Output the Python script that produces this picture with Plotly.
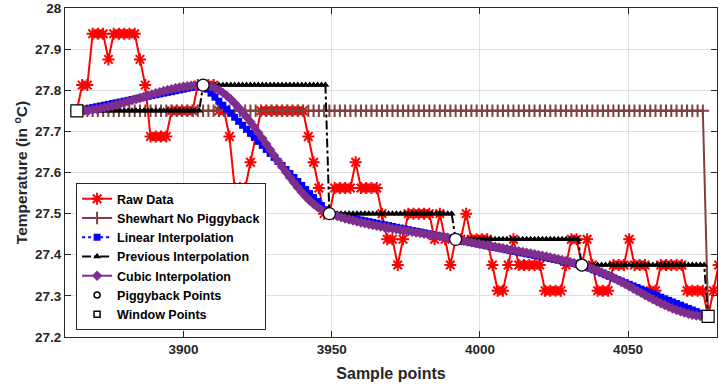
import numpy as np
import plotly.graph_objects as go

# ---------------- data ----------------
SAMPLE_START = 3864.0
SAMPLE_STEP = 1.775

raw_values = [
    27.75,
    27.8125, 27.8125,
    27.9375, 27.9375, 27.9375,
    27.875,
    27.9375, 27.9375, 27.9375, 27.9375, 27.9375,
    27.875,
    27.8125,
    27.6875, 27.6875, 27.6875, 27.6875,
    27.75, 27.75, 27.75, 27.75, 27.75,
    27.8125, 27.8125, 27.8125, 27.8125,
    27.75, 27.75,
    27.6875,
    27.5625, 27.5625, 27.5625,
    27.625,
    27.6875,
    27.75, 27.75, 27.75, 27.75, 27.75, 27.75, 27.75, 27.75, 27.75,
    27.6875,
    27.625,
    27.5625,
    27.5, 27.5,
    27.5625, 27.5625, 27.5625, 27.5625,
    27.625,
    27.5625, 27.5625, 27.5625, 27.5625,
    27.5,
    27.4375, 27.4375,
    27.375,
    27.4375,
    27.5, 27.5, 27.5, 27.5, 27.5,
    27.4375,
    27.5,
    27.4375,
    27.375,
    27.4375, 27.4375,
    27.5,
    27.4375, 27.4375, 27.4375, 27.4375,
    27.375,
    27.3125, 27.3125,
    27.375,
    27.4375,
    27.375, 27.375, 27.375, 27.375, 27.375,
    27.3125, 27.3125, 27.3125, 27.3125,
    27.375,
    27.4375, 27.4375,
    27.375,
    27.4375,
    27.375,
    27.3125, 27.3125, 27.3125,
    27.375, 27.375, 27.375,
    27.4375,
    27.375, 27.375, 27.375,
    27.3125, 27.3125,
    27.375, 27.375, 27.375, 27.375, 27.375,
    27.3125, 27.3125, 27.3125, 27.3125,
    27.25,
    27.3125,
    27.375,
]

shewhart_values = [27.75] * 120 + [27.25]

piggy_x = [3906.6, 3949.2, 3991.8, 4034.4]
piggy_y = [27.8125, 27.5, 27.4375, 27.375]

window_x = [3864.0, 4077.0]
window_y = [27.75, 27.25]

x_ticks = [3900, 3950, 4000, 4050]
y_ticks = [27.2, 27.3, 27.4, 27.5, 27.6, 27.7, 27.8, 27.9, 28.0]
y_labels = ["27.2", "27.3", "27.4", "27.5", "27.6", "27.7", "27.8", "27.9", "28"]

N_QUERY = 161  # interpolation query points between window points

# ---------------- derived series ----------------
raw_x = SAMPLE_START + SAMPLE_STEP * np.arange(len(raw_values))
shew_x = raw_x[:len(shewhart_values)]

knot_x = np.array([window_x[0]] + piggy_x + [window_x[1]])
knot_y = np.array([window_y[0]] + piggy_y + [window_y[1]])

q = np.linspace(window_x[0], window_x[1], N_QUERY)
lin_y = np.interp(q, knot_x, knot_y)
idx = np.searchsorted(knot_x, q + 1e-9, side="right") - 1
prev_y = knot_y[np.clip(idx, 0, len(knot_y) - 1)]


def hermite_shape_preserving(xk, yk, xq):
    """Piecewise cubic Hermite (pchip interior slopes, flat ends)."""
    n = len(xk)
    h = np.diff(xk)
    delta = np.diff(yk) / h
    d = np.zeros(n)
    for k in range(1, n - 1):
        if delta[k - 1] * delta[k] > 0:
            w1 = 2 * h[k] + h[k - 1]
            w2 = h[k] + 2 * h[k - 1]
            d[k] = (w1 + w2) / (w1 / delta[k - 1] + w2 / delta[k])
    j = np.clip(np.searchsorted(xk, xq, side="right") - 1, 0, n - 2)
    t = (xq - xk[j]) / h[j]
    h00 = 2 * t ** 3 - 3 * t ** 2 + 1
    h10 = t ** 3 - 2 * t ** 2 + t
    h01 = -2 * t ** 3 + 3 * t ** 2
    h11 = t ** 3 - t ** 2
    return h00 * yk[j] + h10 * h[j] * d[j] + h01 * yk[j + 1] + h11 * h[j] * d[j + 1]


cub_y = hermite_shape_preserving(knot_x, knot_y, q)

# ---------------- figure ----------------
FONT = "Liberation Sans, Arial, sans-serif"
RED = "#FF0000"
BROWN = "#7F4040"
BLUE = "#0000FF"
PURPLE = "#7E2F8E"

fig = go.Figure()

fig.add_trace(go.Scatter(
    x=raw_x, y=raw_values, mode="lines+markers", name="Raw Data",
    line=dict(color=RED, width=2),
    marker=dict(symbol="asterisk-open", size=10, color=RED,
                line=dict(color=RED, width=2)),
))
fig.add_trace(go.Scatter(
    x=shew_x, y=shewhart_values, mode="lines+markers", name="Shewhart No Piggyback",
    line=dict(color=BROWN, width=2),
    marker=dict(symbol="cross-thin-open", size=9, color=BROWN,
                line=dict(color=BROWN, width=2)),
))
fig.add_trace(go.Scatter(
    x=q, y=lin_y, mode="lines+markers", name="Linear Interpolation",
    line=dict(color=BLUE, width=2, dash="dot"),
    marker=dict(symbol="square", size=7, color=BLUE),
))
fig.add_trace(go.Scatter(
    x=q, y=prev_y, mode="lines+markers", name="Previous Interpolation",
    line=dict(color="#000000", width=2, dash="dashdot"),
    marker=dict(symbol="triangle-up", size=7, color="#000000"),
))
fig.add_trace(go.Scatter(
    x=q, y=cub_y, mode="lines+markers", name="Cubic Interpolation",
    line=dict(color=PURPLE, width=2),
    marker=dict(symbol="diamond", size=8, color=PURPLE),
))
fig.add_trace(go.Scatter(
    x=piggy_x, y=piggy_y, mode="markers", name="Piggyback Points",
    showlegend=False, legendgroup="pig",
    marker=dict(symbol="circle", size=12, color="white",
                line=dict(color="black", width=1.2)),
))
fig.add_trace(go.Scatter(
    x=window_x, y=window_y, mode="markers", name="Window Points",
    showlegend=False, legendgroup="win",
    marker=dict(symbol="square", size=12, color="white",
                line=dict(color="black", width=1.2)),
))
# legend entries with the small symbols the reference legend uses
fig.add_trace(go.Scatter(
    x=[None], y=[None], mode="markers", name="Piggyback Points", legendgroup="pig",
    marker=dict(symbol="circle", size=6, color="white",
                line=dict(color="black", width=1.5)),
))
fig.add_trace(go.Scatter(
    x=[None], y=[None], mode="markers", name="Window Points", legendgroup="win",
    marker=dict(symbol="square", size=6, color="white",
                line=dict(color="black", width=1.5)),
))

axis_common = dict(
    showgrid=True, gridcolor="#e0e0e0", gridwidth=1,
    zeroline=False, showline=True, linecolor="#262626", linewidth=1,
    mirror="ticks", ticks="inside", ticklen=6, tickcolor="#262626",
    ticklabeloverflow="allow",
    tickfont=dict(family=FONT, size=13.5, color="#262626", weight="bold"),
)

fig.update_layout(
    width=719, height=390,
    margin=dict(l=65, r=1, t=6, b=53),
    plot_bgcolor="white", paper_bgcolor="white",
    font=dict(family=FONT, color="#262626"),
    xaxis=dict(range=[3860, 4080], tickvals=x_ticks,
               title=dict(text="Sample points", standoff=11,
                          font=dict(family=FONT, size=16, color="#262626", weight="bold")),
               **axis_common),
    yaxis=dict(range=[27.2, 28.0], tickvals=y_ticks, ticktext=y_labels,
               title=dict(text="Temperature (in <sup>o</sup>C)", standoff=3,
                          font=dict(family=FONT, size=15.5, color="#262626", weight="bold")),
               **axis_common),
    legend=dict(x=0.017, y=0.021, xanchor="left", yanchor="bottom",
                bgcolor="white", bordercolor="#262626", borderwidth=1,
                font=dict(family=FONT, size=12.5, color="black", weight="bold"),
                tracegroupgap=0, itemwidth=30),
    showlegend=True,
)

fig.write_html("out.html",
               config={"displayModeBar": False},
               post_script="document.body.style.margin='0';document.body.style.overflow='hidden';")
